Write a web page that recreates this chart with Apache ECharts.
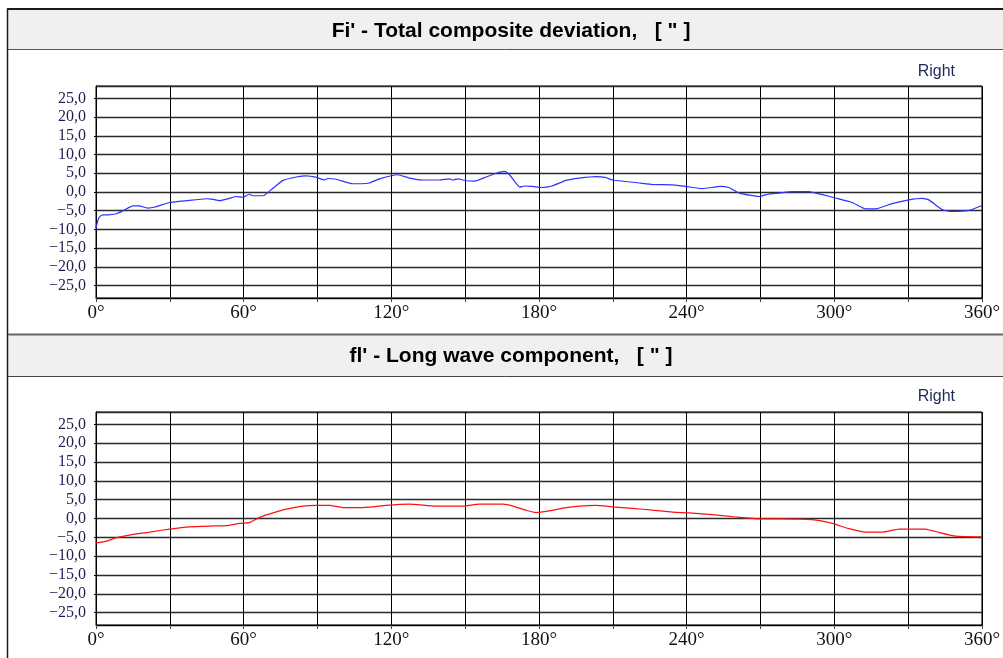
<!DOCTYPE html>
<html>
<head>
<meta charset="utf-8">
<style>
  html, body { margin: 0; padding: 0; background: #ffffff; }
  #chart { width: 1003px; height: 658px; }
</style>
<script src="https://cdn.jsdelivr.net/npm/echarts@6/dist/echarts.min.js"></script>
</head>
<body>
<div id="chart"></div>
<script>
// Total composite deviation Fi' (arc seconds) vs. rotation angle
const totalDeg = [0, 0.8, 1.6, 3, 5, 8.3, 11, 15, 17.5, 21, 24, 30, 36.8, 44.9, 47, 50.3, 55.7, 56.5, 59.8,
  62.2, 63.8, 67.9, 71.9, 76, 81.4, 85.4, 89.5, 92.9, 94.2, 97.6, 104.4, 108, 111, 115.2, 122.6,
  127.4, 132.8, 139.6, 143.7, 145, 147.1, 150.4, 153.8, 158.5, 162.6, 166, 168, 172.3, 174, 177.4,
  180.8, 185.3, 191, 196.4, 203.2, 206.8, 209.9, 215.3, 220.8, 226.2, 234.3, 239.7, 246.4, 253.8,
  257.1, 261.4, 269.5, 273, 277.7, 282.9, 289.7, 295.1, 300.5, 307.3, 312.7, 316.8, 323.5, 330.3,
  335.7, 338.4, 343.8, 347.3, 354.7, 360];
const totalVal = [-9.6, -7.5, -6.5, -6.1, -6.1, -5.8, -5.0, -3.7, -3.7, -4.3, -4.0, -2.8, -2.3, -1.8, -1.9, -2.3, -1.4, -1.2, -1.4,
  -0.6, -1.0, -1.0, 1.0, 3.1, 4.0, 4.3, 3.9, 3.2, 3.6, 3.4, 2.2, 2.2, 2.4, 3.5, 4.6,
  3.7, 3.2, 3.2, 3.5, 3.2, 3.5, 3.0, 2.9, 4.0, 5.0, 5.5, 4.6, 1.3, 1.6, 1.5,
  1.2, 1.6, 3.1, 3.7, 4.1, 3.9, 3.2, 2.8, 2.4, 2.0, 1.9, 1.5, 0.9, 1.5,
  1.2, -0.3, -1.2, -0.6, -0.3, 0.1, 0.1, -0.7, -1.6, -2.8, -4.5, -4.5, -3.1, -2.1,
  -1.7, -2.1, -4.7, -5.2, -4.9, -3.6];

// Long wave component fl'
const longDeg = [0, 4.3, 8.3, 15.1, 21.9, 30, 38.1, 46.3, 53, 58.4, 62.2, 66.5, 71.9, 77.3, 84.1, 89.5, 94.9,
  100.3, 107.1, 112.5, 117.9, 127.4, 138.2, 149, 155.8, 165.3, 169.4, 174.8, 178.8, 182.9, 191,
  196.4, 203.2, 209.9, 218, 226.2, 234.3, 241, 249.2, 260, 269.5, 277.6, 291, 299.2, 306, 312.7,
  319.5, 326.3, 337.1, 342.5, 349.3, 360];
const longVal = [-6.5, -6.0, -5.1, -4.2, -3.6, -2.8, -2.2, -2.0, -1.9, -1.3, -1.1, 0.3, 1.5, 2.5, 3.3, 3.5, 3.5,
  2.9, 2.9, 3.1, 3.5, 3.8, 3.3, 3.3, 3.8, 3.8, 3.3, 2.2, 1.6, 1.9, 2.9,
  3.3, 3.5, 3.1, 2.7, 2.2, 1.7, 1.5, 1.1, 0.4, -0.1, -0.1, -0.3, -1.3, -2.7, -3.6,
  -3.6, -2.8, -2.8, -3.7, -4.7, -4.9];

const panelTitles = ["Fi' - Total composite deviation,   [ \" ]", "fl' - Long wave component,   [ \" ]"];
const flankLabel = 'Right';
const yLimit = 28.3;

const pairs = (xs, ys) => xs.map((x, i) => [x, ys[i]]);

const fmtY = v => (Math.abs(v) > 25.01 ? '' : v.toFixed(1).replace('.', ',').replace('-', '\u2212'));
const fmtX = v => (Math.round(v) % 60 === 0 ? Math.round(v) + '\u00b0' : '');

function xAxisFor(gridIndex) {
  return {
    type: 'value', gridIndex, min: 0, max: 360, interval: 30,
    axisLine: { show: true, onZero: false, lineStyle: { color: '#000', width: 1 } },
    axisTick: { show: true, inside: false, length: 4, lineStyle: { color: '#444' } },
    axisLabel: {
      formatter: fmtX, margin: 6, color: '#111',
      fontFamily: 'Liberation Serif', fontSize: 19, showMaxLabel: true
    },
    splitLine: { show: true, lineStyle: { color: '#000', width: 1 } }
  };
}

function yAxisFor(gridIndex) {
  return {
    type: 'value', gridIndex, min: -yLimit, max: yLimit,
    splitNumber: 11, minInterval: 5, maxInterval: 5,
    axisLine: { show: true, lineStyle: { color: '#000', width: 1 } },
    axisTick: { show: true, length: 2, lineStyle: { color: '#000' } },
    axisLabel: {
      formatter: fmtY, margin: 10, color: '#1e2150',
      fontFamily: 'Liberation Serif', fontSize: 16,
      showMinLabel: false, showMaxLabel: false
    },
    splitLine: { show: true, lineStyle: { color: '#2a2a2a', width: 1.4 } }
  };
}

const chart = echarts.init(document.getElementById('chart'), null, { renderer: 'canvas' });

const titleFont = 'bold 21px "Liberation Sans", Arial';
const flankFont = '16px "Liberation Sans", Arial';

const frameGraphics = [
  // panel header bars
  { type: 'rect', shape: { x: 8, y: 10, width: 1000, height: 39 }, style: { fill: '#f0f0f0' }, z: 0 },
  { type: 'rect', shape: { x: 8, y: 335, width: 1000, height: 41 }, style: { fill: '#f0f0f0' }, z: 0 },
  // frame lines
  { type: 'line', shape: { x1: 7, y1: 9, x2: 1003, y2: 9 }, style: { stroke: '#1a1a1a', lineWidth: 2 } },
  { type: 'line', shape: { x1: 7.5, y1: 9, x2: 7.5, y2: 658 }, style: { stroke: '#1a1a1a', lineWidth: 1.5 } },
  { type: 'line', shape: { x1: 8, y1: 49.5, x2: 1003, y2: 49.5 }, style: { stroke: '#555', lineWidth: 1 } },
  { type: 'line', shape: { x1: 8, y1: 334.5, x2: 1003, y2: 334.5 }, style: { stroke: '#666', lineWidth: 2 } },
  { type: 'line', shape: { x1: 8, y1: 376.5, x2: 1003, y2: 376.5 }, style: { stroke: '#444', lineWidth: 1 } },
  // panel titles
  { type: 'text', x: 511, y: 31, style: { text: panelTitles[0], fill: '#000', font: titleFont, align: 'center', verticalAlign: 'middle' } },
  { type: 'text', x: 511, y: 356, style: { text: panelTitles[1], fill: '#000', font: titleFont, align: 'center', verticalAlign: 'middle' } },
  // flank labels
  { type: 'text', x: 955, y: 72, style: { text: flankLabel, fill: '#1e2a55', font: flankFont, align: 'right', verticalAlign: 'middle' } },
  { type: 'text', x: 955, y: 397, style: { text: flankLabel, fill: '#1e2a55', font: flankFont, align: 'right', verticalAlign: 'middle' } }
];

chart.setOption({
  animation: false,
  backgroundColor: '#ffffff',
  graphic: { elements: frameGraphics },
  grid: [
    { left: 96, top: 86, width: 887, height: 212, show: true, borderColor: '#000', borderWidth: 1, backgroundColor: 'transparent' },
    { left: 96, top: 412, width: 887, height: 213, show: true, borderColor: '#000', borderWidth: 1, backgroundColor: 'transparent' }
  ],
  xAxis: [xAxisFor(0), xAxisFor(1)],
  yAxis: [yAxisFor(0), yAxisFor(1)],
  series: [
    {
      type: 'line', xAxisIndex: 0, yAxisIndex: 0, data: pairs(totalDeg, totalVal),
      showSymbol: false, smooth: 0.15, lineStyle: { color: '#3030ff', width: 1.2 }, z: 5
    },
    {
      type: 'line', xAxisIndex: 1, yAxisIndex: 1, data: pairs(longDeg, longVal),
      showSymbol: false, smooth: 0.15, lineStyle: { color: '#ff1010', width: 1.2 }, z: 5
    }
  ]
});
</script>
</body>
</html>
